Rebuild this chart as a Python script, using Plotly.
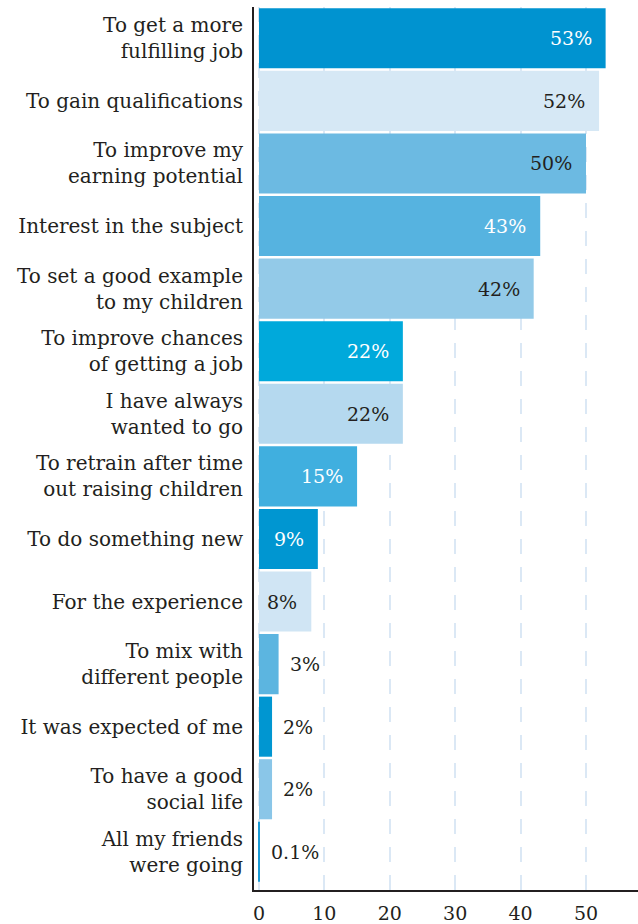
import plotly.graph_objects as go

# Reasons given for going to university (% of respondents)
reasons = [
    "To get a more<br>fulfilling job",
    "To gain qualifications",
    "To improve my<br>earning potential",
    "Interest in the subject",
    "To set a good example<br>to my children",
    "To improve chances<br>of getting a job",
    "I have always<br>wanted to go",
    "To retrain after time<br>out raising children",
    "To do something new",
    "For the experience",
    "To mix with<br>different people",
    "It was expected of me",
    "To have a good<br>social life",
    "All my friends<br>were going",
]
shares = [53, 52, 50, 43, 42, 22, 22, 15, 9, 8, 3, 2, 2, 0.1]
value_labels = ["53%", "52%", "50%", "43%", "42%", "22%", "22%", "15%",
                "9%", "8%", "3%", "2%", "2%", "0.1%"]

bar_colors = ["#0093d0", "#d6e8f5", "#6cbae2", "#56b3e0", "#93cae8",
              "#00a9db", "#b5d9ef", "#40afdf", "#0096d1", "#d0e5f4",
              "#5cb5e0", "#0096d1", "#8ac6e8", "#1a9bd7"]
label_colors = ["#ffffff", "#231f20", "#231f20", "#ffffff", "#231f20",
                "#ffffff", "#231f20", "#ffffff", "#ffffff", "#231f20",
                "#231f20", "#231f20", "#231f20", "#231f20"]

FONT = "DejaVu Serif"
DARK = "#231f20"

fig = go.Figure(
    go.Bar(
        x=shares,
        y=reasons,
        orientation="h",
        marker=dict(color=bar_colors, line=dict(width=0)),
        hoverinfo="skip",
    )
)

# Value labels: inside the bar end for wide bars, just past the end otherwise
for v, lab, col, cat in zip(shares, value_labels, label_colors, reasons):
    inside = v >= 8
    fig.add_annotation(
        x=v, y=cat, text=lab, showarrow=False,
        xanchor="right" if inside else "left",
        xshift=-12 if inside else 9,
        font=dict(family=FONT, size=19, color=col),
    )

fig.update_layout(
    width=638, height=924,
    margin=dict(l=254, r=0, t=7, b=34),
    paper_bgcolor="white", plot_bgcolor="white",
    bargap=0.04,
    showlegend=False,
    font=dict(family=FONT, color=DARK),
    xaxis=dict(
        range=[-0.76, 57.95],
        tickvals=[0, 10, 20, 30, 40, 50],
        ticks="", ticklabelstandoff=5,
        tickfont=dict(family=FONT, size=19, color=DARK),
        showgrid=True, gridcolor="#dbe8f5", gridwidth=2, griddash="15px,13px",
        zeroline=False,
        showline=True, linecolor=DARK, linewidth=2,
        fixedrange=True,
    ),
    yaxis=dict(
        type="category",
        range=[13.61, -0.5],
        ticks="", ticklabelstandoff=5,
        tickfont=dict(family=FONT, size=20, color=DARK),
        showgrid=False, zeroline=False,
        showline=True, linecolor=DARK, linewidth=2,
        fixedrange=True,
    ),
)

fig.write_html("out.html")
